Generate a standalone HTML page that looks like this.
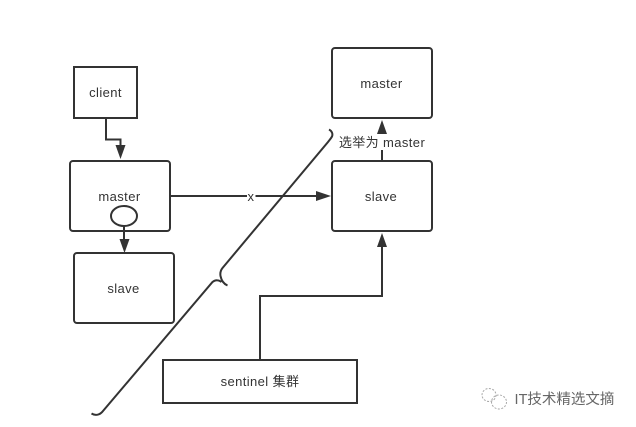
<!DOCTYPE html>
<html>
<head>
<meta charset="utf-8">
<style>
html,body{margin:0;padding:0;background:#fff}
svg{display:block;filter:blur(.3px)}
text{font-family:"Liberation Sans","Noto Sans CJK SC",sans-serif;font-size:13px;letter-spacing:.4px;fill:#333;text-anchor:middle}
</style>
</head>
<body>
<svg width="636" height="427" viewBox="0 0 636 427" xmlns="http://www.w3.org/2000/svg">
<rect width="636" height="427" fill="#fff"/>
<g fill="none" stroke="#333" stroke-width="2">
  <rect x="74" y="67" width="63" height="51"/>
  <rect x="70" y="161" width="100" height="70" rx="3"/>
  <rect x="74" y="253" width="100" height="70" rx="3"/>
  <rect x="332" y="48" width="100" height="70" rx="3"/>
  <rect x="332" y="161" width="100" height="70" rx="3"/>
  <rect x="163" y="360" width="194" height="43"/>
  <path d="M106 118V139.500H120.500V146"/>
  <path d="M124 226V240"/>
  <path d="M171 196H318"/>
  <path d="M382 161V133"/>
  <path d="M260 360V296H382V246"/>
  <ellipse cx="124" cy="216" rx="13" ry="10" fill="#fff"/>
</g>
<g fill="#333">
  <path d="M115.500 145H125.500L120.500 159Z"/>
  <path d="M119.500 239H129.500L124.500 253Z"/>
  <path d="M316 191V201L331 196Z"/>
  <path d="M377 134H387L382 120Z"/>
  <path d="M377 247H387L382 233Z"/>
</g>
<path d="M329 129.500C332 131 333 134 332 136.500C331 138.500 329.500 140 328 142L222.500 268C220.500 270.500 220 273 220.500 276C221.500 281 224 284 227.500 285.500M221.500 282C219 280 215.500 279.500 212.500 282L103 411C100 415 95.500 416 91.500 413.500" fill="none" stroke="#333" stroke-width="2"/>
<rect x="247" y="190" width="8.500" height="13" fill="#fff"/>
<text x="105.500" y="97">client</text>
<text x="119.500" y="201">master</text>
<text x="123.500" y="293">slave</text>
<text x="381.500" y="88">master</text>
<text x="381" y="201">slave</text>
<text x="251" y="201">x</text>
<rect x="338" y="134" width="88" height="16" fill="#fff"/>
<text x="382" y="147">选举为 master</text>
<text x="260" y="386">sentinel 集群</text>
<g fill="none" stroke="#a8a8a8" stroke-width="1" stroke-dasharray="2 1.500">
  <ellipse cx="489" cy="395" rx="7" ry="6.500"/>
  <ellipse cx="499" cy="402" rx="7.500" ry="7"/>
</g>
<text x="564.500" y="404" style="font-size:14.500px;letter-spacing:0;fill:#666">IT技术精选文摘</text>
</svg>
</body>
</html>
